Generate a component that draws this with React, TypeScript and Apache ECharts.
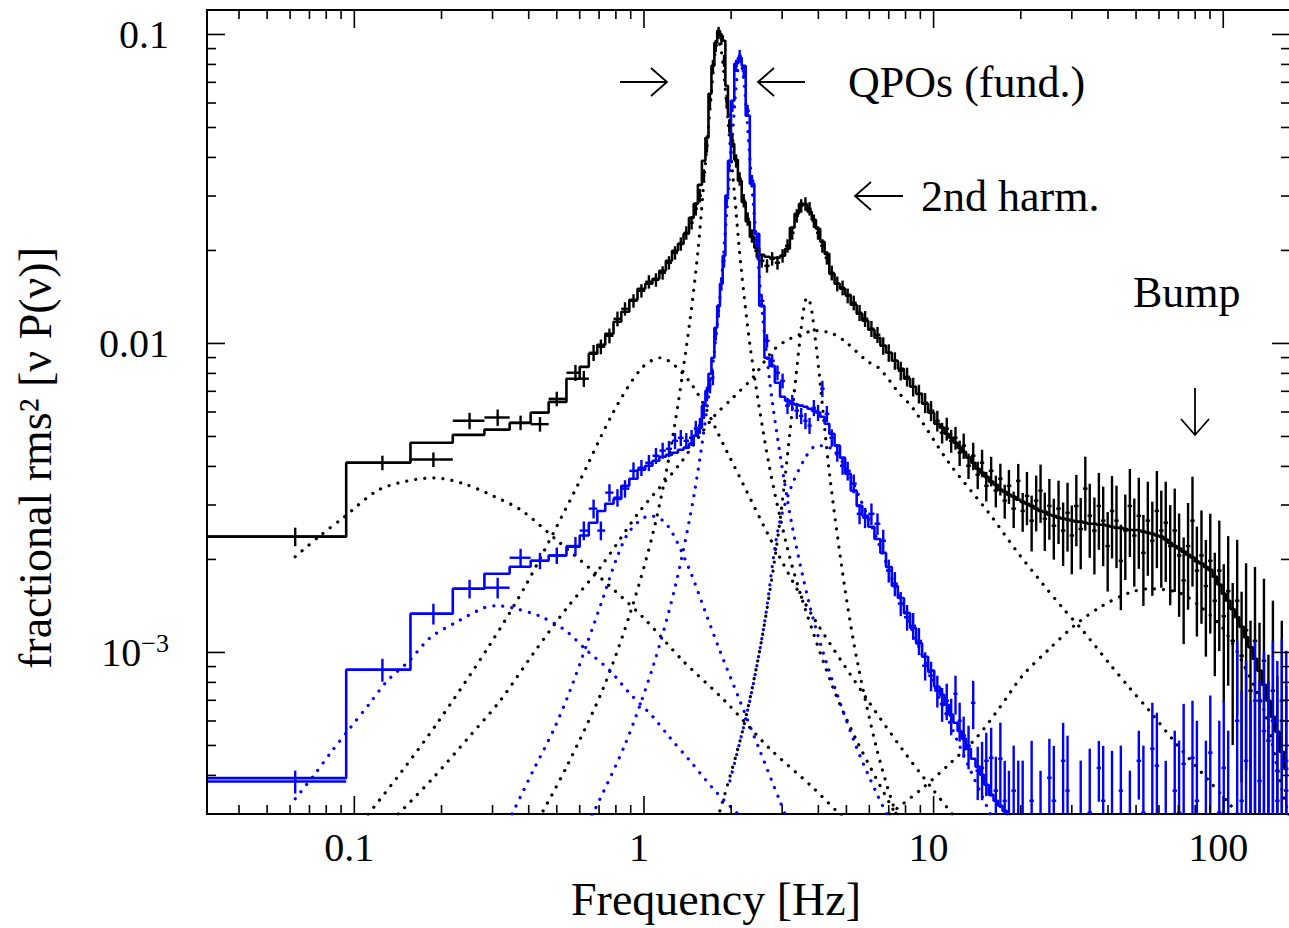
import React, { useEffect, useRef } from "react";
import * as echarts from "echarts";

const FONT = '"Liberation Serif", "Times New Roman", serif';

// ---------- frequency grids (Hz) ----------
const lowFreq = [0.0625, 0.125, 0.1875, 0.25, 0.3125, 0.375, 0.4375, 0.5];
const midFreq = [0.58, 0.62, 0.67, 0.71, 0.76, 0.81, 0.86, 0.92, 0.98, 1.04, 1.10, 1.16, 1.22, 1.28, 1.34, 1.40, 1.46, 1.51, 1.56, 1.61,
  1.65, 1.69, 1.73, 1.77, 1.81, 1.85, 1.89, 1.93, 1.97, 2.02, 2.08, 2.14, 2.21, 2.28, 2.36,
  2.45, 2.55, 2.66, 2.77, 2.89, 3.01, 3.13, 3.25, 3.37, 3.49, 3.61, 3.73, 3.86, 3.99, 4.13, 4.28, 4.45, 4.65, 4.85, 5.05,
  5.3, 5.55, 5.8, 6.1, 6.4, 6.7, 7.0, 7.35, 7.7, 8.1, 8.5, 8.9, 9.35, 9.8];
const highFreq = [10.3, 10.7, 11.1, 11.5, 11.9, 12.3, 12.7, 13.2, 13.7, 14.2, 14.7, 15.2, 15.8, 16.4, 17.0, 17.6, 18.2, 18.9, 19.6, 20.3,
  21.0, 21.8, 22.6, 23.4, 24.2, 25.1, 26.0, 27.0, 28.0, 29.0, 30.0, 31.1, 32.2, 33.4, 34.6, 35.9, 37.2, 38.5, 39.9, 41.3,
  42.8, 44.3, 45.9, 47.6, 49.3, 51.1, 53.0, 54.9, 56.9, 59.0, 61.1, 63.3, 65.6, 68.0, 70.4, 73.0, 75.6, 78.3, 81.1, 84.1,
  87.1, 90.2, 93.5, 96.9, 100.4, 104, 107.8, 111.7, 115.7, 119.9, 124.2, 128.7, 133.4, 138.2, 143.2, 148.4, 153.7, 159.3, 165.0];

// ---------- black observation ----------
const blackLowPower = [0.00237, 0.00411, 0.00421, 0.00562, 0.00576, 0.00554, 0.00548, 0.00662];
const blackLowModel = [0.00237, 0.00411, 0.00477, 0.00506, 0.00526, 0.00553, 0.00597, 0.00647];
const blackLowErr = [0.069, 0.054, 0.054, 0.061, 0.061, 0.054, 0.054, 0.054];

const blackMidPower = [0.00804, 0.00769, 0.00933, 0.00976, 0.01059, 0.01202, 0.01295, 0.01374, 0.01481, 0.01584,
  0.01607, 0.01693, 0.01825, 0.01966, 0.0210, 0.0228, 0.0246, 0.0273, 0.0301, 0.0349,
  0.0436, 0.061, 0.0792, 0.0919, 0.1013, 0.0968, 0.0822, 0.061, 0.0506, 0.0453,
  0.039, 0.0341, 0.029, 0.0253, 0.0223, 0.01995, 0.01852, 0.01784, 0.0188, 0.01825,
  0.01922, 0.0207, 0.0228, 0.0259, 0.0279, 0.0283, 0.0273, 0.0249, 0.0228, 0.0207,
  0.01894, 0.01693, 0.0156, 0.01514, 0.01427, 0.01354, 0.01257, 0.01202, 0.01116, 0.01067,
  0.00983, 0.00933, 0.00879, 0.00816, 0.0078, 0.00724, 0.00687, 0.00643, 0.00606];
const blackMidModel = [0.00769, 0.0084, 0.00926, 0.0099, 0.01075, 0.01175, 0.01267, 0.01385, 0.01503, 0.0156,
  0.0162, 0.01719, 0.01852, 0.01995, 0.021, 0.02265, 0.0255, 0.0283, 0.0326, 0.039,
  0.0463, 0.0643, 0.0792, 0.094, 0.1028, 0.099, 0.0954, 0.0682, 0.055, 0.0443,
  0.0393, 0.0336, 0.0287, 0.0248, 0.0221, 0.0204, 0.01937, 0.01908, 0.01894, 0.01894,
  0.01922, 0.02025, 0.02368, 0.0263, 0.0283, 0.0281, 0.0267, 0.02513, 0.0235, 0.02134,
  0.0195, 0.0168, 0.0156, 0.01503, 0.01437, 0.01334, 0.01248, 0.01184, 0.01107, 0.01043,
  0.00983, 0.00933, 0.00879, 0.00828, 0.00769, 0.00724, 0.00687, 0.00638, 0.00597];
const blackMidErr = [0.06, 0.06, 0.06, 0.055, 0.055, 0.055, 0.05, 0.05, 0.05, 0.05, 0.05, 0.05, 0.05, 0.05, 0.05, 0.05, 0.05, 0.05, 0.05, 0.05,
  0.05, 0.05, 0.045, 0.045, 0.045, 0.045, 0.045, 0.045, 0.05, 0.05, 0.05, 0.05, 0.05, 0.05, 0.05,
  0.05, 0.05, 0.05, 0.05, 0.05, 0.05, 0.05, 0.05, 0.05, 0.05, 0.05, 0.05, 0.05, 0.05, 0.05, 0.05, 0.055, 0.055, 0.055, 0.055,
  0.055, 0.06, 0.06, 0.06, 0.06, 0.065, 0.065, 0.065, 0.07, 0.07, 0.07, 0.07, 0.075, 0.075];

const blackHighPower = [0.00562, 0.00514, 0.0053, 0.00484, 0.00495, 0.00443, 0.00467, 0.00402, 0.00433, 0.00376,
  0.00411, 0.00346, 0.00387, 0.00334, 0.00365, 0.0031, 0.00346, 0.00292, 0.00359, 0.00287,
  0.00321, 0.00267, 0.0031, 0.00334, 0.00271, 0.00298, 0.00257, 0.00292, 0.00248, 0.00283,
  0.00239, 0.00298, 0.00251, 0.00339, 0.00277, 0.00248, 0.00298, 0.00267, 0.00221, 0.00287,
  0.00267, 0.00198, 0.00248, 0.00298, 0.00239, 0.00277, 0.0021, 0.00267, 0.0023, 0.00287,
  0.00248, 0.00263, 0.00221, 0.00248, 0.00206, 0.00171, 0.00221, 0.00267, 0.00184, 0.00206,
  0.00164, 0.00198, 0.00147, 0.00184, 0.00131, 0.00158, 0.00109, 0.00147, 0.000976, 0.00118,
  0.000752, 0.00109, 0.000698, 0.00094, 0.000518, 0.000752, 0.000414, 0.000601, 0.000357];
const blackHighModel = [0.0055, 0.00534, 0.0051, 0.00495, 0.00477, 0.0046, 0.00446, 0.00427, 0.00411, 0.00393,
  0.00382, 0.0037, 0.00357, 0.00349, 0.00336, 0.00331, 0.00324, 0.00319, 0.00312, 0.00307,
  0.00303, 0.00298, 0.00292, 0.00287, 0.00285, 0.00279, 0.00277, 0.00273, 0.00271, 0.00269,
  0.00267, 0.00265, 0.00265, 0.00263, 0.00261, 0.00261, 0.00259, 0.00259, 0.00257, 0.00255,
  0.00253, 0.00253, 0.00251, 0.00249, 0.00249, 0.00248, 0.00246, 0.00244, 0.00242, 0.00239,
  0.00237, 0.00232, 0.00226, 0.00221, 0.00217, 0.00212, 0.00207, 0.00203, 0.00197, 0.00194,
  0.00189, 0.00185, 0.00176, 0.00166, 0.00155, 0.00147, 0.00138, 0.0013, 0.00121, 0.00112,
  0.00104, 0.000954, 0.000873, 0.000786, 0.000698, 0.000619, 0.000554, 0.000477, 0.00042];
const blackHighErr = [0.077, 0.077, 0.085, 0.085, 0.085, 0.094, 0.094, 0.094, 0.102, 0.102,
  0.102, 0.11, 0.11, 0.118, 0.118, 0.126, 0.126, 0.135, 0.135, 0.144,
  0.196, 0.205, 0.205, 0.214, 0.214, 0.223, 0.223, 0.232, 0.232, 0.251,
  0.251, 0.26, 0.26, 0.269, 0.269, 0.279, 0.279, 0.288, 0.288, 0.298,
  0.298, 0.308, 0.308, 0.317, 0.317, 0.327, 0.327, 0.337, 0.337, 0.347,
  0.347, 0.357, 0.357, 0.367, 0.367, 0.378, 0.378, 0.388, 0.388, 0.399,
  0.409, 0.419, 0.43, 0.451, 0.473, 0.506, 0.54, 0.575, 0.611, 0.648,
  0.685, 0.736, 0.788, 0.842, 0.898, 0.956, 1.03, 1.107, 1.186];

// ---------- blue observation ----------
const blueLowPower = [0.000382, 0.000879, 0.001334, 0.001607, 0.00162, 0.002025, 0.00198, 0.00206];
const blueLowModel = [0.000392, 0.000879, 0.001334, 0.001607, 0.001797, 0.001894, 0.00198, 0.00206];
const blueLowErr = [0.085, 0.085, 0.077, 0.069, 0.077, 0.069, 0.061, 0.061];

const blueMidPower = [0.00221, 0.00248, 0.00292, 0.00248, 0.00329, 0.00317, 0.00339, 0.00387, 0.00396, 0.00411,
  0.00433, 0.0045, 0.00456, 0.00484, 0.00495, 0.00484, 0.00495, 0.0053, 0.00542, 0.00606,
  0.00687, 0.0073, 0.00775, 0.01075, 0.01276, 0.0156, 0.01852, 0.029, 0.0376, 0.0588,
  0.0792, 0.0853, 0.0763, 0.0566, 0.0336, 0.0215, 0.01374, 0.0102, 0.00879, 0.00804,
  0.00757, 0.00629, 0.00643, 0.00606, 0.00583, 0.00562, 0.00542, 0.00619, 0.00597, 0.00714,
  0.00592, 0.00495, 0.00443, 0.00402, 0.00387, 0.00352, 0.00281, 0.00273, 0.00281, 0.00261,
  0.0023, 0.00184, 0.00167, 0.00144, 0.0013, 0.00122, 0.00109, 0.000906, 0.000841];
const blueMidModel = [0.0022, 0.00239, 0.00263, 0.00287, 0.00303, 0.00314, 0.00346, 0.00365, 0.0039, 0.00402,
  0.00417, 0.0043, 0.00436, 0.00443, 0.00453, 0.0046, 0.00474, 0.00503, 0.00534, 0.00629,
  0.00703, 0.00798, 0.00899, 0.01124, 0.01324, 0.0156, 0.01922, 0.0301, 0.039, 0.061,
  0.0804, 0.0841, 0.0792, 0.0546, 0.0329, 0.02265, 0.01324, 0.00899, 0.00847, 0.00746,
  0.00672, 0.00653, 0.00638, 0.00633, 0.00629, 0.00624, 0.00615, 0.00606, 0.00597, 0.00579,
  0.0055, 0.0051, 0.00467, 0.00427, 0.00379, 0.00334, 0.00298, 0.00277, 0.00255, 0.00233,
  0.0021, 0.00189, 0.00164, 0.0015, 0.00134, 0.0012, 0.00107, 0.000968, 0.000873];
const blueMidErr = [0.07, 0.07, 0.07, 0.07, 0.065, 0.065, 0.065, 0.065, 0.06, 0.06, 0.06, 0.06, 0.06, 0.06, 0.06, 0.06, 0.06, 0.06, 0.06, 0.06,
  0.055, 0.055, 0.055, 0.05, 0.05, 0.05, 0.05, 0.045, 0.045, 0.045, 0.045, 0.045, 0.045, 0.045, 0.045,
  0.05, 0.05, 0.05, 0.05, 0.055, 0.055, 0.06, 0.06, 0.06, 0.06, 0.06, 0.06, 0.06, 0.06, 0.06, 0.06, 0.065, 0.065, 0.065, 0.07,
  0.07, 0.075, 0.075, 0.08, 0.08, 0.085, 0.085, 0.09, 0.09, 0.095, 0.1, 0.1, 0.105, 0.11];

const blueHighPower = [0.000752, 0.000682, 0.000698, 0.000624, 0.000735, 0.000601, 0.000538, 0.000499, 0.000687, 0.000414,
  0.000423, 0.000446, 0.000456, 0.000357, 0.000453, 0.000331, 0.000296, 0.000357, 0.000265, 0.000265,
  0.00015, 0.000331, 0.00015, 0.000228, 0.00015, 0.000393, 0.000331, 0.00015, 0.000446, 0.000357,
  0.00015, 0.00015, 0.000265, 0.00015, 0.000303, 0.00015, 0.000423, 0.000331, 0.00015, 0.000285,
  0.00015, 0.000357, 0.00015, 0.000265, 0.00015, 0.000446, 0.000303, 0.00015, 0.000488, 0.00043,
  0.00015, 0.000228, 0.00015, 0.000357, 0.000303, 0.000436, 0.00015, 0.000456, 0.000331, 0.00015,
  0.000265, 0.000474, 0.00015, 0.000303, 0.000423, 0.000246, 0.00015, 0.000601, 0.000331, 0.000446,
  0.000228, 0.000698, 0.000384, 0.000557, 0.000285, 0.000601, 0.000331, 0.000698, 0.000446];
const blueHighModel = [0.000774, 0.000729, 0.000677, 0.000629, 0.000592, 0.000557, 0.000526, 0.000488, 0.000453, 0.000427,
  0.000402, 0.000373, 0.000346, 0.000331, 0.000319, 0.000307, 0.000294, 0.000281, 0.000267, 0.000255, 0.000244];
const blueHighErr = [0.118, 0.126, 0.135, 0.135, 0.144, 0.144, 0.152, 0.161, 0.178, 0.196,
  0.214, 0.232, 0.251, 0.288, 0.308, 0.347, 0.399, 0.399, 0.685, 0.685,
  0.4, 0.563, 0.4, 0.815, 0.4, 0.337, 0.506, 0.4, 0.327, 0.506,
  0.4, 0.4, 0.685, 0.4, 0.611, 0.4, 0.223, 0.506, 0.4, 0.685,
  0.4, 0.399, 0.4, 0.563, 0.4, 0.251, 0.648, 0.4, 0.409, 0.484,
  0.4, 0.956, 0.4, 0.563, 0.711, 0.563, 0.4, 0.53, 0.815, 0.4,
  0.956, 0.53, 0.4, 0.985, 0.648, 1.269, 0.4, 0.815, 1.269, 1.107,
  2.055, 0.563, 1.107, 0.815, 1.836, 0.815, 1.836, 0.587, 1.269];

// ---------- fitted Lorentzian components [freq, value] ----------
const blackLowComp = [[0.0625, 0.00204], [0.0763, 0.00239], [0.0917, 0.00273], [0.12, 0.00334], [0.1524, 0.00359], [0.1903, 0.00367], [0.2377, 0.00352], [0.3014, 0.00321], [0.38, 0.00287], [0.513, 0.00226], [0.705, 0.00175], [0.992, 0.0013], [1.363, 0.00094], [1.90, 0.000698], [2.72, 0.000488], [3.80, 0.000368], [4.74, 0.0003], [6.02, 0.000246]];
const blackBroad1 = [[0.0976, 0.000255], [0.1464, 0.000414], [0.1949, 0.000597], [0.292, 0.00105], [0.392, 0.00166], [0.587, 0.00344], [0.782, 0.00597], [0.977, 0.00828], [1.135, 0.00899], [1.464, 0.00735], [1.949, 0.0044], [2.921, 0.00206], [3.889, 0.001276], [5.875, 0.000708], [7.818, 0.000484], [9.765, 0.000368], [11.72, 0.000296], [14.64, 0.000228]];
const blackQpo = [[0.4485, 0.000307], [0.5383, 0.000423], [0.7223, 0.000763], [0.9019, 0.001365], [1.083, 0.00251], [1.259, 0.00503], [1.441, 0.01184], [1.536, 0.01995], [1.623, 0.0365], [1.716, 0.0677], [1.757, 0.0859], [1.8, 0.0954], [1.843, 0.0901], [1.888, 0.0746], [1.98, 0.0446], [2.076, 0.0271], [2.161, 0.01784], [2.339, 0.0094], [2.698, 0.00408], [3.138, 0.00215], [3.592, 0.001395], [4.485, 0.000774], [5.383, 0.000526], [7.223, 0.000312], [9.02, 0.00022]];
const blackHarm = [[1.828, 0.000307], [2.195, 0.000562], [2.553, 0.001107], [2.921, 0.00249], [3.29, 0.00672], [3.479, 0.01091], [3.565, 0.01299], [3.648, 0.01405], [3.736, 0.01365], [3.825, 0.0121], [4.013, 0.00822], [4.379, 0.00373], [4.934, 0.00162], [5.469, 0.00092], [6.361, 0.000488], [7.278, 0.000317], [9.092, 0.000178]];
const blackBroad2 = [[0.1419, 0.0003], [0.1873, 0.000393], [0.2512, 0.000538], [0.3188, 0.000698], [0.4142, 0.00099], [0.5426, 0.001395], [0.7053, 0.00188], [0.9687, 0.00287], [1.331, 0.00408], [1.729, 0.00575], [2.027, 0.00667], [2.376, 0.00775], [2.786, 0.00947], [3.187, 0.01035], [3.951, 0.011], [4.485, 0.01075], [5.012, 0.01005], [5.875, 0.00879], [6.514, 0.00828], [7.637, 0.00687], [8.466, 0.00619], [11.36, 0.00408], [15.6, 0.00281], [19.33, 0.00213], [23.77, 0.00167], [27.86, 0.001395], [32.65, 0.00118], [40.46, 0.00092], [47.42, 0.000769], [55.56, 0.000648], [68.85, 0.000506], [87.38, 0.000393], [104.9, 0.000324], [122.9, 0.000269]];
const blackBump = [[7.053, 0.0003], [8.947, 0.000357], [11.36, 0.000436], [14.07, 0.00053], [16.89, 0.000662], [20.27, 0.000841], [25.12, 0.001028], [31.13, 0.001238], [38.27, 0.001416], [47.42, 0.00156], [55.56, 0.001607], [70.5, 0.00156], [82.62, 0.001416], [100, 0.001193], [118.1, 0.000906], [138.5, 0.000648], [159.7, 0.000357], [168.9, 0.000296]];

const blueLowComp = [[0.0625, 0.000336], [0.0728, 0.000402], [0.0839, 0.000481], [0.0969, 0.000571], [0.1127, 0.000682], [0.13, 0.00081], [0.1549, 0.00094], [0.1828, 0.001116], [0.223, 0.001248], [0.2808, 0.001395], [0.3112, 0.001416], [0.3506, 0.001395], [0.4377, 0.00131], [0.534, 0.00118], [0.636, 0.001013], [0.7633, 0.000873], [0.8948, 0.000735], [1.0656, 0.000624], [1.229, 0.00053], [1.441, 0.000446], [1.757, 0.000357], [2.143, 0.000296]];
const blueBroad1 = [[0.3506, 0.0003], [0.4142, 0.000414], [0.4857, 0.000557], [0.5556, 0.000752], [0.641, 0.00109], [0.7223, 0.0015], [0.807, 0.00203], [0.8948, 0.00248], [1.049, 0.00277], [1.163, 0.00267], [1.259, 0.00242], [1.441, 0.00184], [1.623, 0.001365], [1.828, 0.001013], [2.143, 0.000698], [2.512, 0.000481], [2.944, 0.000331], [3.187, 0.000275]];
const blueQpo = [[0.641, 0.000279], [0.86, 0.000503], [1.074, 0.000899], [1.289, 0.00167], [1.4995, 0.00336], [1.716, 0.0081], [1.828, 0.01395], [1.932, 0.0265], [2.043, 0.0542], [2.093, 0.0721], [2.143, 0.0822], [2.195, 0.0758], [2.248, 0.0597], [2.358, 0.0324], [2.473, 0.0188], [2.572, 0.0121], [2.786, 0.00629], [3.213, 0.00271], [3.736, 0.001416], [4.276, 0.00092], [5.341, 0.00051], [6.412, 0.000344], [7.513, 0.000257]];
const blueBroad2 = [[1.98, 0.000384], [2.32, 0.000698], [2.614, 0.001266], [2.898, 0.00248], [3.187, 0.00334], [3.592, 0.00424], [3.951, 0.00467], [4.379, 0.0046], [4.934, 0.00402], [5.556, 0.00317], [6.514, 0.00221], [7.637, 0.00149], [8.947, 0.001028], [10.49, 0.000708], [12.29, 0.000499], [14.41, 0.000357], [16.23, 0.000281]];

// ---------- axes ----------
const xLabelValues = [0.1, 1, 10, 100];
const xLabelTexts = ["0.1", "1", "10", "100"];
const yLabelValues = [0.1, 0.01, 0.001];
const yLabelTexts = ["0.1", "0.01", "{b|10}{s|\u22123}"];
const xMajorTicks = [0.1, 1, 10, 100];
const xMinorTicks = [0.04, 0.05, 0.06, 0.07, 0.08, 0.09, 0.2, 0.3, 0.4, 0.5, 0.6, 0.7, 0.8, 0.9, 2, 3, 4, 5, 6, 7, 8, 9, 20, 30, 40, 50, 60, 70, 80, 90];
const yMajorTicks = [0.001, 0.01, 0.1];
const yMinorTicks = [0.0004, 0.0005, 0.0006, 0.0007, 0.0008, 0.0009, 0.002, 0.003, 0.004, 0.005, 0.006, 0.007, 0.008, 0.009, 0.02, 0.03, 0.04, 0.05, 0.06, 0.07, 0.08, 0.09];

const BLACK = "#000000";
const BLUE = "#0000ff";

function binEdges(freqs: number[]): number[] {
  const e: number[] = [];
  e.push(freqs[0] - (freqs[1] - freqs[0]) / 2);
  for (let i = 1; i < freqs.length; i++) e.push((freqs[i - 1] + freqs[i]) / 2);
  const n = freqs.length;
  e.push(freqs[n - 1] + (freqs[n - 1] - freqs[n - 2]) / 2);
  return e;
}

function crossItems(freqs: number[], power: number[], rel: number[], edges: number[]) {
  const out: number[][] = [];
  for (let i = 0; i < freqs.length; i++) {
    const v = power[i];
    out.push([freqs[i], v, edges[i], edges[i + 1], v * (1 - rel[i]), v * (1 + rel[i])]);
  }
  return out;
}

function stepLine(model: number[], edges: number[]) {
  const pts: number[][] = [];
  for (let i = 0; i < model.length; i++) {
    pts.push([edges[i], model[i]]);
    pts.push([edges[i + 1], model[i]]);
  }
  return pts;
}

const isClose = (a: number, b: number) => Math.abs(Math.log10(a) - Math.log10(b)) < 1e-6;

export default function App() {
  const ref = useRef<HTMLDivElement>(null);
  useEffect(() => {
    if (!ref.current) return;
    const chart = echarts.init(ref.current, null, { renderer: "svg" });

    const freqs = [...lowFreq, ...midFreq, ...highFreq];
    const edges = binEdges(freqs);
    const bPow = [...blackLowPower, ...blackMidPower, ...blackHighPower];
    const bMod = [...blackLowModel, ...blackMidModel, ...blackHighModel];
    const bErr = [...blackLowErr, ...blackMidErr, ...blackHighErr];
    const uPow = [...blueLowPower, ...blueMidPower, ...blueHighPower];
    const uMod = [...blueLowModel, ...blueMidModel, ...blueHighModel];
    const uErr = [...blueLowErr, ...blueMidErr, ...blueHighErr];

    const crossRender = (color: string) => (params: any, api: any) => {
      const cs = params.coordSys;
      const top = cs.y, bottom = cs.y + cs.height, left = cs.x, right = cs.x + cs.width;
      const f = api.value(0), v = api.value(1), xlo = api.value(2), xhi = api.value(3), ylo = api.value(4), yhi = api.value(5);
      const c = api.coord([f, v]);
      const children: any[] = [];
      let yT = api.coord([f, yhi])[1];
      let yB = ylo > 0 ? api.coord([f, ylo])[1] : bottom + 10;
      yT = Math.max(top, Math.min(bottom, yT));
      yB = Math.max(top, Math.min(bottom, yB));
      if (yB > yT) {
        children.push({ type: "line", shape: { x1: c[0], y1: yT, x2: c[0], y2: yB }, style: { stroke: color, lineWidth: 2.4 } });
      }
      if (c[1] >= top && c[1] <= bottom) {
        let xl = api.coord([xlo, v])[0];
        let xh = api.coord([xhi, v])[0];
        xl = Math.max(left, xl); xh = Math.min(right, xh);
        if (xh - xl < 3) { const m = (xl + xh) / 2; xl = m - 1.5; xh = m + 1.5; }
        children.push({ type: "line", shape: { x1: xl, y1: c[1], x2: xh, y2: c[1] }, style: { stroke: color, lineWidth: 2.4 } });
      }
      return { type: "group", children };
    };

    const tickData: number[][] = [];
    xMajorTicks.forEach((t) => tickData.push([t, 0.01, 0, 1]));
    xMinorTicks.forEach((t) => tickData.push([t, 0.01, 0, 0]));
    yMajorTicks.forEach((t) => tickData.push([1, t, 1, 1]));
    yMinorTicks.forEach((t) => tickData.push([1, t, 1, 0]));

    const tickRender = (params: any, api: any) => {
      const cs = params.coordSys;
      const top = cs.y, bottom = cs.y + cs.height, left = cs.x, right = cs.x + cs.width;
      const kind = api.value(2);
      const len = api.value(3) ? 18 : 9;
      const st = { stroke: "#000", lineWidth: 1.6 };
      if (kind === 0) {
        const x = api.coord([api.value(0), 0.01])[0];
        return { type: "group", children: [
          { type: "line", shape: { x1: x, y1: bottom, x2: x, y2: bottom - len }, style: st },
          { type: "line", shape: { x1: x, y1: top, x2: x, y2: top + len }, style: st },
        ] };
      }
      const y = api.coord([1, api.value(1)])[1];
      return { type: "group", children: [
        { type: "line", shape: { x1: left, y1: y, x2: left + len, y2: y }, style: st },
        { type: "line", shape: { x1: right, y1: y, x2: right - len, y2: y }, style: st },
      ] };
    };

    const comp = (data: number[][], color: string) => ({
      type: "line", data, smooth: 0.3, symbol: "none", showSymbol: false, silent: true, z: 2,
      lineStyle: { color, width: 3.2, type: [0.1, 9], cap: "round" },
    });

    const arrowStyle = { stroke: "#000", lineWidth: 1.8, fill: "none" };

    const option: any = {
      animation: false,
      backgroundColor: "#ffffff",
      grid: { left: 207, top: 10, width: 1083, height: 804, show: true, borderColor: "#000", borderWidth: 2, backgroundColor: "transparent", containLabel: false, outerBoundsMode: "none" },
      xAxis: {
        type: "log", logBase: 10, min: 0.031, max: 170,
        axisLine: { show: false }, axisTick: { show: false }, splitLine: { show: false }, minorTick: { show: false },
        axisLabel: {
          formatter: (v: number) => { const i = xLabelValues.findIndex((t) => isClose(t, v)); return i >= 0 ? xLabelTexts[i] : ""; },
          fontSize: 40, fontFamily: FONT, color: "#000", margin: 33, verticalAlign: "middle", padding: [0, 10, 0, 0],
        },
      },
      yAxis: {
        type: "log", logBase: 10, min: 0.0003, max: 0.12,
        axisLine: { show: false }, axisTick: { show: false }, splitLine: { show: false }, minorTick: { show: false },
        axisLabel: {
          formatter: (v: number) => { const i = yLabelValues.findIndex((t) => isClose(t, v)); return i >= 0 ? yLabelTexts[i] : ""; },
          fontSize: 40, fontFamily: FONT, color: "#000", margin: 38,
          rich: {
            b: { fontSize: 40, fontFamily: FONT, color: "#000", lineHeight: 44 },
            s: { fontSize: 26, fontFamily: FONT, color: "#000", lineHeight: 26, verticalAlign: "top" },
          },
        },
      },
      series: [
        comp(blackLowComp, BLACK), comp(blackBroad1, BLACK), comp(blackQpo, BLACK), comp(blackHarm, BLACK), comp(blackBroad2, BLACK), comp(blackBump, BLACK),
        comp(blueLowComp, BLUE), comp(blueBroad1, BLUE), comp(blueQpo, BLUE), comp(blueBroad2, BLUE),
        { type: "line", data: stepLine(bMod, edges), symbol: "none", showSymbol: false, silent: true, z: 3, lineStyle: { color: BLACK, width: 2.6 } },
        { type: "line", data: stepLine(uMod, edges), symbol: "none", showSymbol: false, silent: true, z: 3, lineStyle: { color: BLUE, width: 2.6 } },
        { type: "custom", renderItem: crossRender(BLACK), data: crossItems(freqs, bPow, bErr, edges), encode: { x: 0, y: 1 }, silent: true, z: 4 },
        { type: "custom", renderItem: crossRender(BLUE), data: crossItems(freqs, uPow, uErr, edges), encode: { x: 0, y: 1 }, silent: true, z: 5 },
        { type: "custom", renderItem: tickRender, data: tickData, encode: { x: 0, y: 1 }, silent: true, z: 6 },
      ],
      graphic: [
        { type: "text", x: 35, y: 458, rotation: Math.PI / 2, style: { text: "fractional rms\u00b2 [\u03bd P(\u03bd)]", fontSize: 46, fontFamily: FONT, fill: "#000", align: "center", verticalAlign: "middle" } },
        { type: "text", x: 716, y: 899, style: { text: "Frequency [Hz]", fontSize: 46, fontFamily: FONT, fill: "#000", align: "center", verticalAlign: "middle" } },
        { type: "text", x: 848, y: 82, style: { text: "QPOs (fund.)", fontSize: 44, fontFamily: FONT, fill: "#000", align: "left", verticalAlign: "middle" } },
        { type: "text", x: 921, y: 196, style: { text: "2nd harm.", fontSize: 44, fontFamily: FONT, fill: "#000", align: "left", verticalAlign: "middle" } },
        { type: "text", x: 1133, y: 292, style: { text: "Bump", fontSize: 44, fontFamily: FONT, fill: "#000", align: "left", verticalAlign: "middle" } },
        { type: "line", shape: { x1: 620, y1: 82, x2: 667, y2: 82 }, style: arrowStyle },
        { type: "polyline", shape: { points: [[651, 68], [667, 82], [651, 96]] }, style: arrowStyle },
        { type: "line", shape: { x1: 758, y1: 82, x2: 805, y2: 82 }, style: arrowStyle },
        { type: "polyline", shape: { points: [[774, 68], [758, 82], [774, 96]] }, style: arrowStyle },
        { type: "line", shape: { x1: 855, y1: 196, x2: 903, y2: 196 }, style: arrowStyle },
        { type: "polyline", shape: { points: [[871, 182], [855, 196], [871, 210]] }, style: arrowStyle },
        { type: "line", shape: { x1: 1195, y1: 388, x2: 1195, y2: 435 }, style: arrowStyle },
        { type: "polyline", shape: { points: [[1181, 419], [1195, 435], [1209, 419]] }, style: arrowStyle },
      ],
    };
    chart.setOption(option);
    return () => chart.dispose();
  }, []);
  return <div ref={ref} style={{ position: "absolute", left: 0, top: 0, width: 1289, height: 928, background: "#fff" }} />;
}
